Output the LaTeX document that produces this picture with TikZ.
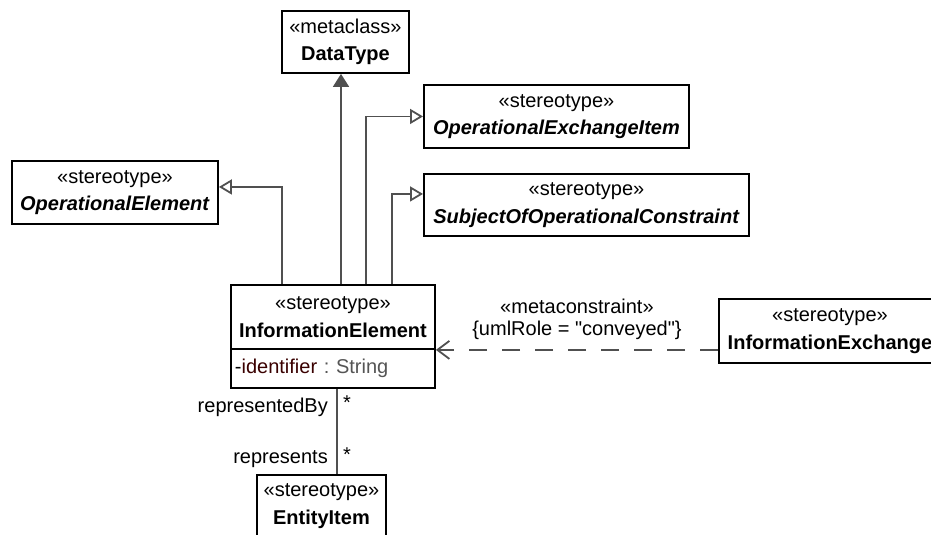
\documentclass[tikz,border=0pt]{standalone}
\usepackage{fontspec}
\setmainfont{Liberation Sans}
\usetikzlibrary{arrows.meta,positioning,calc}
\definecolor{ink}{HTML}{000000}
\definecolor{wire}{HTML}{505050}
\definecolor{attrred}{HTML}{3A0000}
\definecolor{attrgray}{HTML}{555555}
\frenchspacing
\tikzset{
  every node/.style={font=\fontsize{20}{27.5}\selectfont},
  cls/.style={draw=ink, line width=1.9pt, fill=white, align=center, inner sep=0pt, anchor=north west},
  genarrow/.style={-{Triangle[open,length=13pt,width=15pt]}, line width=1.8pt, draw=wire},
  extarrow/.style={-{Triangle[length=13pt,width=16pt]}, line width=1.8pt, draw=wire, fill=wire},
  deparrow/.style={-{Straight Barb[length=12pt,width=18pt]}, line width=1.8pt, draw=wire, dash pattern=on 18pt off 15pt},
  assoc/.style={line width=1.8pt, draw=wire},
  rolelabel/.style={inner sep=0pt, font=\fontsize{20}{22}\selectfont},
}

\begin{document}
\begin{tikzpicture}[x=1pt,y=-1pt]
\clip (0,0) rectangle (931,535);
% classes
\node[cls, minimum width=127pt, minimum height=62pt] (dt) at (281,10) {«metaclass»\\\textbf{DataType}};
\node[cls, minimum width=265pt, minimum height=63pt] (oei) at (423,84) {«stereotype»\\\textbf{\textit{OperationalExchangeItem}}};
\node[cls, minimum width=325pt, minimum height=62pt] (soc) at (423,173) {«stereotype»\\\textbf{\textit{SubjectOfOperationalConstraint}}};
\node[cls, minimum width=206pt, minimum height=63pt] (opel) at (11,160) {«stereotype»\\\textbf{\textit{OperationalElement}}};
\node[cls, minimum width=204pt, minimum height=64pt] (ie) at (230,284) {«stereotype»\\\textbf{InformationElement}};
\node[cls, minimum width=204pt, minimum height=39pt, align=left, text width=196pt] (ieattr) at (230,348) {-\textcolor{attrred}{identifier} \textcolor{attrgray}{: String}};
\node[cls, minimum width=222pt, minimum height=64pt] (ix) at (718,298) {«stereotype»\\\textbf{InformationExchange}};
\node[cls, minimum width=129pt, minimum height=62pt] (ei) at (256,474) {«stereotype»\\\textbf{EntityItem}};
% generalizations and extension
\draw[genarrow] ([xshift=52pt]ie.north west) |- ([yshift=5.5pt]opel.east);
\draw[extarrow] ([xshift=111pt]ie.north west) -- ([xshift=111pt]ie.north west |- dt.south);
\draw[genarrow] ([xshift=136pt]ie.north west) |- (oei.west);
\draw[genarrow] ([xshift=162pt]ie.north west) |- ([yshift=11pt]soc.west);
% metaconstraint
\draw[deparrow] (ix.west |- ie.south east) -- (ie.south east)
  node[rolelabel, midway, above=9pt, align=center] (mc) {«metaconstraint»\\\{umlRole = \textquotedbl conveyed\textquotedbl\}};
% association
\coordinate (a1) at ([xshift=107pt]ieattr.south west);
\draw[assoc] (a1) -- (a1 |- ei.north);
\node[rolelabel, anchor=east] (rby) at ($(a1)+(-9,18)$) {representedBy};
\node[rolelabel, anchor=west] (m1) at ($(a1)+(6,14)$) {*};
\node[rolelabel, anchor=east] (rep) at ($(a1)+(-9,70)$) {represents};
\node[rolelabel, anchor=west] (m2) at ($(a1)+(6,66)$) {*};
\end{tikzpicture}
\end{document}
